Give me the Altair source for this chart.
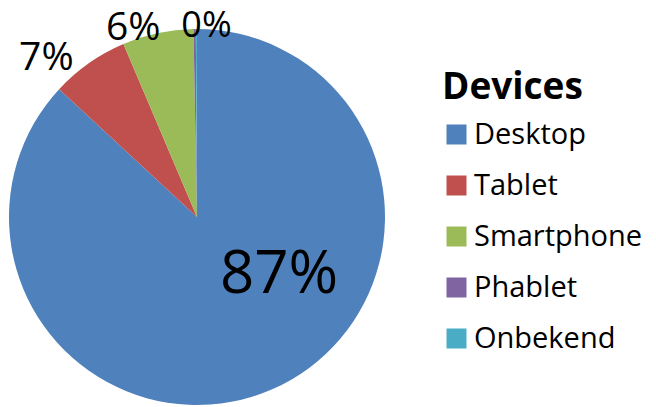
import altair as alt
import pandas as pd

devices = ["Desktop", "Tablet", "Smartphone", "Phablet", "Onbekend"]
shares = [86.9, 6.7, 6.1, 0.2, 0.1]
labels = ["87%", "7%", "6%", "0%", "0%"]
colors = ["#4F81BD", "#C0504D", "#9BBB59", "#8064A2", "#4BACC6"]

df = pd.DataFrame({
    "device": devices,
    "share": shares,
    "label": labels,
    "idx": list(range(len(devices))),
})

FONT = "Open Sans"
CX, CY = 189, 209

base = alt.Chart(df).encode(
    theta=alt.Theta("share:Q", stack=True),
    order=alt.Order("idx:Q"),
    x=alt.value(CX),
    y=alt.value(CY),
)

arc = base.mark_arc(radius=188, stroke=None).encode(
    color=alt.Color(
        "device:N",
        scale=alt.Scale(domain=devices, range=colors),
        sort=devices,
        legend=alt.Legend(
            title="Devices",
            orient="none",
            legendX=434,
            legendY=62,
            titleFont=FONT,
            titleFontSize=37,
            titleFontWeight="bold",
            titleColor="black",
            titlePadding=13,
            labelFont=FONT,
            labelFontSize=29,
            labelColor="black",
            labelOffset=3,
            labelLimit=400,
            symbolType="square",
            symbolSize=400,
            symbolStrokeWidth=0,
            symbolOpacity=1,
            rowPadding=21,
        ),
    )
)


def label_layer(dev, radius, dx, dy, size):
    return base.mark_text(
        radius=radius, dx=dx, dy=dy, fontSize=size, font=FONT,
        color="black", align="center", baseline="middle",
    ).encode(
        text=alt.condition(f"datum.device == '{dev}'", alt.Text("label:N"), alt.value(""))
    )


chart = alt.layer(
    arc,
    label_layer("Desktop", 100, 42, -34, 60),
    label_layer("Tablet", 215, -27, 17, 39),
    label_layer("Smartphone", 200, -22, 7, 39),
    label_layer("Phablet", 196, 12, 5, 36),
).properties(
    width=640, height=399, padding=0, autosize="none",
).configure_view(stroke=None)

chart.save("out.html", embed_options={"renderer": "svg", "actions": False})
